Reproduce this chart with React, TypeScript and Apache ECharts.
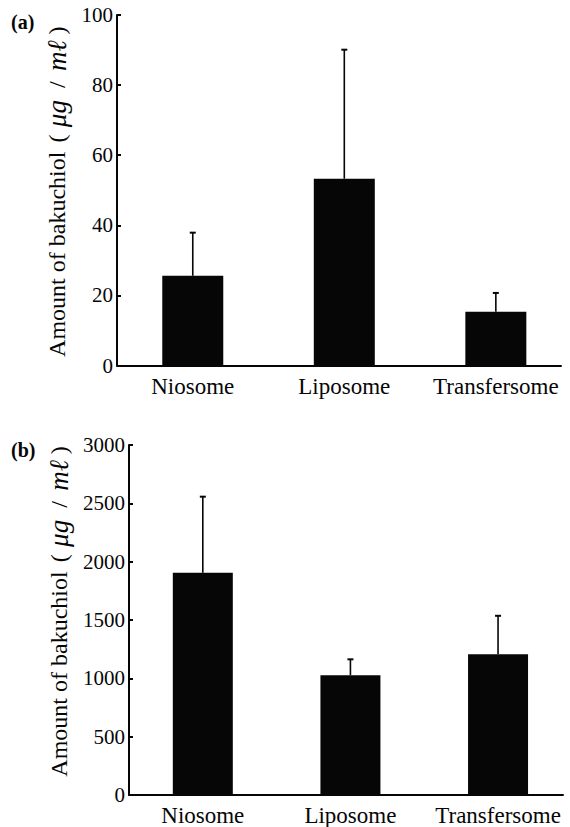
import React, { useEffect, useRef } from "react";
import * as echarts from "echarts";

const categories = ["Niosome", "Liposome", "Transfersome"];

// Panel (a)
const meansA = [25.6, 53.3, 15.3];
const errorsA = [12.3, 36.8, 5.4];
const ticksA = { min: 0, max: 100, interval: 20 };

// Panel (b)
const meansB = [1906, 1027, 1206];
const errorsB = [651, 136, 330];
const ticksB = { min: 0, max: 3000, interval: 500 };

const SERIF = "Liberation Serif";
const INK = "#060606";

const titleRich = {
  a: { fontFamily: SERIF, fontSize: 24, color: INK },
  p: { fontFamily: SERIF, fontSize: 24, color: INK, width: 14, align: "center" },
  s: { fontFamily: SERIF, fontSize: 24, color: INK, width: 22, align: "center" },
  i: { fontFamily: SERIF, fontSize: 27, fontStyle: "italic", color: INK, width: 36, align: "center" },
};
const titleText = "{a|Amount of bakuchiol }{p|(}{i|μg}{s|/}{i|mℓ}{p|)}";

function xAxisFor(gridIndex: number, max: number) {
  return {
    type: "value",
    gridIndex,
    min: -0.5,
    max,
    interval: 0.5,
    splitLine: { show: false },
    axisTick: { show: false },
    axisLine: { show: true, onZero: false, lineStyle: { color: INK, width: 2 } },
    axisLabel: {
      showMinLabel: false,
      showMaxLabel: false,
      margin: 9,
      fontFamily: SERIF,
      fontSize: 23,
      color: INK,
      formatter: (v: number) =>
        Number.isInteger(v) && v >= 0 && v < categories.length ? categories[v] : "",
    },
  };
}

function yAxisFor(gridIndex: number, t: { min: number; max: number; interval: number }, nameGap: number, pad: number[]) {
  return {
    type: "value",
    gridIndex,
    min: t.min,
    max: t.max,
    interval: t.interval,
    splitLine: { show: false },
    axisLine: { show: true, onZero: false, lineStyle: { color: INK, width: 2 } },
    axisTick: { show: true, inside: true, length: 4, lineStyle: { color: INK, width: 2 } },
    axisLabel: {
      margin: 4,
      fontFamily: SERIF,
      fontSize: 21,
      color: INK,
      formatter: (v: number) => String(v),
    },
    name: titleText,
    nameLocation: "middle",
    nameGap,
    nameRotate: 90,
    nameTextStyle: { fontFamily: SERIF, fontSize: 24, color: INK, rich: titleRich, padding: pad },
  };
}

function barSeries(idx: number, means: number[], width: number) {
  return {
    type: "bar",
    xAxisIndex: idx,
    yAxisIndex: idx,
    barWidth: width,
    itemStyle: { color: INK },
    data: means.map((m, i) => [i, m]),
  };
}

function errorSeries(idx: number, means: number[], errors: number[]) {
  return {
    type: "custom",
    xAxisIndex: idx,
    yAxisIndex: idx,
    encode: { x: 0, y: 1 },
    z: 3,
    data: means.map((m, i) => [i, m, errors[i]]),
    renderItem: (_params: any, api: any) => {
      const xv = api.value(0);
      const base = api.coord([xv, api.value(1)]);
      const top = api.coord([xv, api.value(1) + api.value(2)]);
      return {
        type: "group",
        children: [
          {
            type: "line",
            shape: { x1: base[0], y1: base[1], x2: top[0], y2: top[1] },
            style: { stroke: INK, lineWidth: 1.6 },
          },
          {
            type: "line",
            shape: { x1: top[0] - 3, y1: top[1], x2: top[0] + 3, y2: top[1] },
            style: { stroke: INK, lineWidth: 2 },
          },
        ],
      };
    },
  };
}

export default function App() {
  const ref = useRef<HTMLDivElement>(null);

  useEffect(() => {
    if (!ref.current) return;
    const chart = echarts.init(ref.current, null, { renderer: "svg" });
    chart.setOption({
      animation: false,
      backgroundColor: "#ffffff",
      grid: [
        { left: 117, top: 15, width: 444, height: 350.5 },
        { left: 129, top: 445, width: 434, height: 352 },
      ],
      xAxis: [xAxisFor(0, 2.43), xAxisFor(1, 2.44)],
      yAxis: [yAxisFor(0, ticksA, 45, [0, 0, 0, 0]), yAxisFor(1, ticksB, 57, [0, 0, 0, 20])],
      series: [
        barSeries(0, meansA, 61),
        errorSeries(0, meansA, errorsA),
        barSeries(1, meansB, 60),
        errorSeries(1, meansB, errorsB),
      ],
      graphic: [
        {
          type: "text",
          left: 11,
          top: 12,
          style: { text: "(a)", font: `bold 20px ${SERIF}`, fill: INK },
        },
        {
          type: "text",
          left: 11,
          top: 440,
          style: { text: "(b)", font: `bold 20px ${SERIF}`, fill: INK },
        },
      ],
    });
    return () => chart.dispose();
  }, []);

  return (
    <div
      ref={ref}
      style={{ position: "absolute", left: 0, top: 0, width: 570, height: 827, background: "#fff" }}
    />
  );
}
